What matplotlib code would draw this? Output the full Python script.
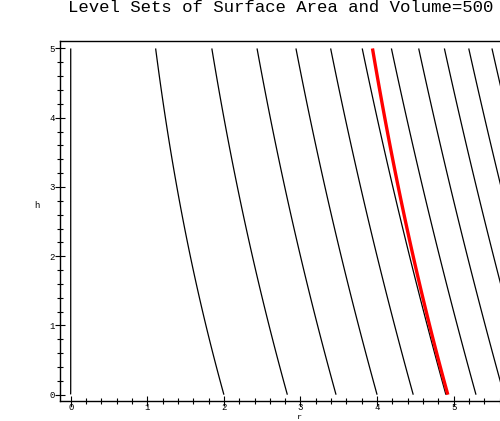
import matplotlib
matplotlib.use("Agg")
import matplotlib.pyplot as plt
import numpy as np
from matplotlib.ticker import MultipleLocator

# capsule (cylinder + two hemispheres) of radius r and height h
surface_levels = [0, 16, 32, 48, 64, 80, 96, 112, 128, 144, 160, 176, 192, 208]  # times pi
volume_target = 500

r_range = (-0.002, 5.7)
h_range = (0.0, 5.0)


def surface_area(r, h):
    return 2 * np.pi * r * h + 4 * np.pi * r ** 2


def volume(r, h):
    return np.pi * r ** 2 * h + 4.0 / 3.0 * np.pi * r ** 3


mono = "Liberation Mono"

fig = plt.figure(figsize=(5.0, 4.21), dpi=100)
ax = fig.add_axes([0.12, 0.0475, 0.88, 0.8545])

rr, hh = np.meshgrid(np.linspace(*r_range, 700), np.linspace(*h_range, 400))
ax.contour(rr, hh, surface_area(rr, hh),
           levels=[np.pi * s for s in surface_levels],
           colors='black', linewidths=0.9)
ax.contour(rr, hh, volume(rr, hh), levels=[volume_target],
           colors='#ff0000', linewidths=2.4)

ax.set_xlim(-0.14, 5.605)
ax.set_ylim(-0.091, 5.104)

ax.spines['right'].set_visible(False)
for s in ['left', 'bottom', 'top']:
    ax.spines[s].set_linewidth(1.0)

ax.xaxis.set_major_locator(MultipleLocator(1))
ax.xaxis.set_minor_locator(MultipleLocator(0.2))
ax.yaxis.set_major_locator(MultipleLocator(1))
ax.yaxis.set_minor_locator(MultipleLocator(0.2))
ax.tick_params(which='major', direction='inout', length=7, width=0.8,
               labelsize=6.5, pad=0, top=False, right=False)
ax.tick_params(which='minor', direction='inout', length=4, width=0.8,
               top=False, right=False)
ax.tick_params(axis='x', which='major', pad=-2)
for lab in ax.get_xticklabels() + ax.get_yticklabels():
    lab.set_family(mono)

ax.set_xlabel('r', family=mono, fontsize=6, va='bottom')
ax.xaxis.set_label_coords(0.545, -0.0555)
ax.set_ylabel('h', family=mono, fontsize=6.5, rotation=0)
ax.yaxis.set_label_coords(-0.052, 0.53)

fig.suptitle('Level Sets of Surface Area and Volume=500', family=mono,
             fontsize=12.5, x=0.562, y=1.0, va='top')

fig.savefig('out.png', dpi=100)
